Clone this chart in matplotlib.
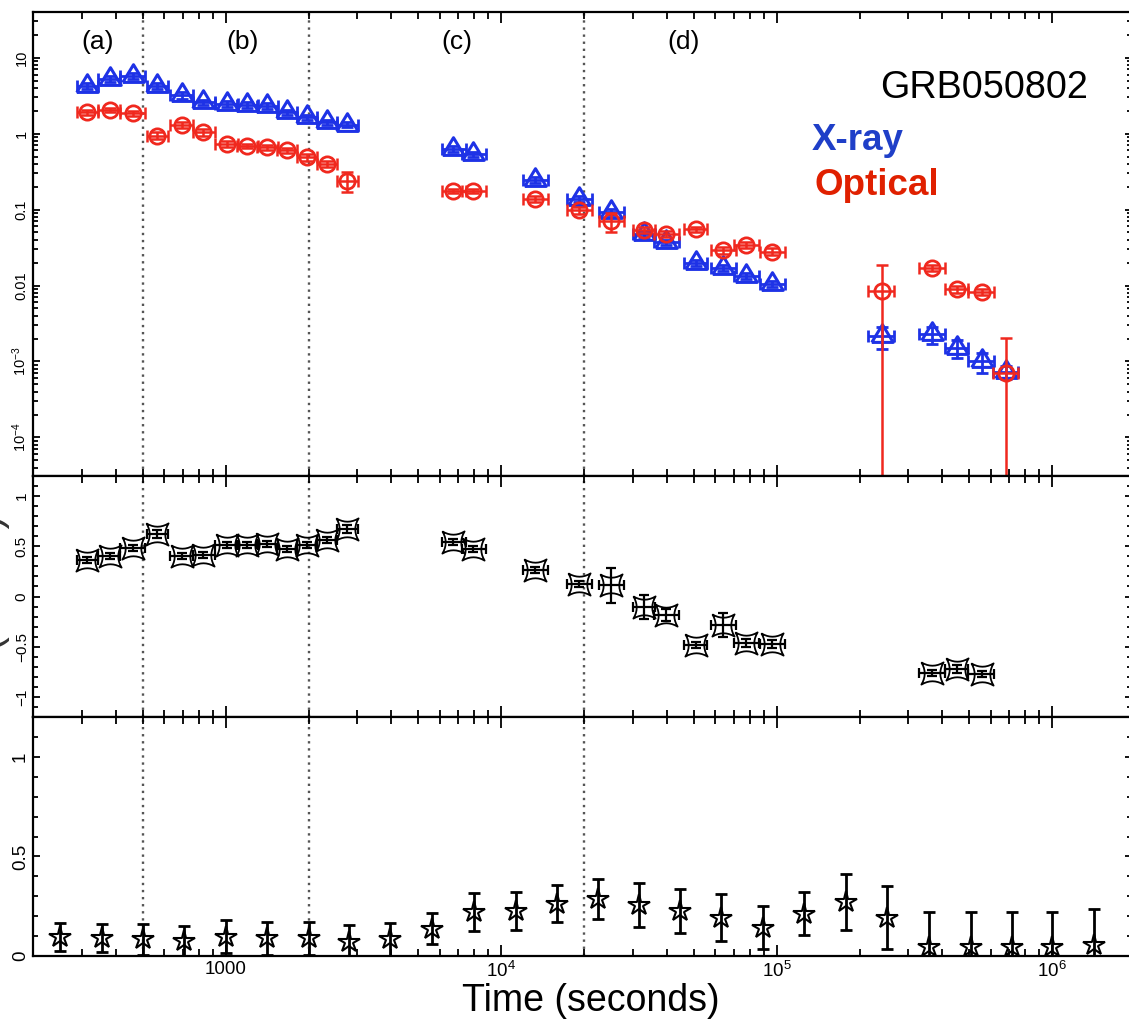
import numpy as np
import matplotlib
matplotlib.use('Agg')
import matplotlib.pyplot as plt
from matplotlib.ticker import LogLocator, MultipleLocator, NullFormatter
import matplotlib.transforms as mtransforms

plt.rcParams['font.family'] = ['Liberation Sans', 'DejaVu Sans']
plt.rcParams['mathtext.fontset'] = 'custom'
plt.rcParams['mathtext.rm'] = 'Liberation Sans'
plt.rcParams['mathtext.it'] = 'Liberation Sans:italic'
plt.rcParams['mathtext.bf'] = 'Liberation Sans:bold'

# ---- top panel: light curves (time bins shared by X-ray and optical)
t_mid = [315, 381, 462, 562, 693, 831, 1010, 1194, 1411, 1667, 1973, 2329, 2752,
         6710, 7940, 13280, 19230, 25000, 33050, 39700, 51100, 64100, 77500, 96100,
         241000, 368000, 453000, 556000, 681000]
t_lo = [288, 345, 414, 517, 629, 764, 916, 1098, 1298, 1534, 1815, 2142, 2532,
        6090, 7200, 12050, 17400, 22700, 30100, 35800, 46300, 57700, 70300, 87200,
        215000, 330000, 407000, 497000, 610000]
t_hi = [345, 414, 510, 620, 764, 916, 1113, 1316, 1555, 1815, 2154, 2532, 3035,
        7440, 8830, 14850, 21300, 27900, 36200, 44400, 56100, 71100, 86000, 107600,
        266000, 407000, 497000, 614000, 754000]

xray = [4.3, 5.3, 5.8, 4.3, 3.2, 2.6, 2.46, 2.4, 2.34, 1.91, 1.64, 1.41, 1.31,
        0.63, 0.54, 0.245, 0.137, 0.094, 0.0475, 0.037, 0.020, 0.0172, 0.0134, 0.0104,
        0.00216, 0.00228, 0.0015, 0.00101, 0.00073]
xray_err = [0.4, 0.5, 0.5, 0.4, 0.3, 0.2, 0.2, 0.2, 0.2, 0.15, 0.13, 0.11, 0.1,
            0.05, 0.04, 0.02, 0.012, 0.008, 0.004, 0.003, 0.002, 0.0015, 0.0012, 0.0009,
            0.0007, 0.0006, 0.0004, 0.0003, 0.00015]

optical = [1.91, 2.05, 1.85, 0.94, 1.31, 1.04, 0.73, 0.69, 0.66, 0.60, 0.49, 0.40, 0.235,
           0.177, 0.177, 0.137, 0.098, 0.071, 0.054, 0.048, 0.055, 0.029, 0.034, 0.028,
           0.0085, 0.0172, 0.0089, 0.0083, 0.00071]
opt_err_lo = [0.15, 0.15, 0.15, 0.1, 0.12, 0.1, 0.06, 0.05, 0.05, 0.05, 0.05, 0.04, 0.065,
              0.012, 0.012, 0.012, 0.01, 0.02, 0.005, 0.005, 0.004, 0.003, 0.003, 0.003,
              0.0084999, 0.0015, 0.001, 0.0008, 0.00070999]
opt_err_hi = [0.15, 0.15, 0.15, 0.1, 0.12, 0.1, 0.06, 0.05, 0.05, 0.05, 0.05, 0.04, 0.075,
              0.012, 0.012, 0.012, 0.01, 0.02, 0.005, 0.005, 0.004, 0.003, 0.003, 0.003,
              0.010, 0.0015, 0.001, 0.0008, 0.00135]

# ---- middle panel: X-ray to optical index
beta_t = t_mid[:24] + t_mid[25:28]
beta_lo = t_lo[:24] + t_lo[25:28]
beta_hi = t_hi[:24] + t_hi[25:28]
beta = [0.36, 0.40, 0.487, 0.62, 0.40, 0.41, 0.51, 0.51, 0.52, 0.477, 0.51, 0.56, 0.677,
        0.543, 0.477, 0.26, 0.12, 0.11, -0.107, -0.18, -0.48, -0.28, -0.467, -0.473,
        -0.76, -0.72, -0.77]
beta_err = [0.03, 0.03, 0.03, 0.04, 0.03, 0.03, 0.03, 0.03, 0.03, 0.03, 0.03, 0.03, 0.04,
            0.03, 0.03, 0.03, 0.03, 0.17, 0.12, 0.06, 0.03, 0.12, 0.04, 0.04,
            0.03, 0.04, 0.03]

# ---- bottom panel
p_t = [250, 355, 500, 705, 1000, 1410, 2000, 2810, 3960, 5600, 8000, 11300, 15900,
       22400, 31600, 44600, 63100, 89300, 126000, 178000, 252000, 358000, 507000,
       715000, 1000000, 1420000]
p_val = [0.097, 0.092, 0.083, 0.075, 0.097, 0.088, 0.088, 0.072, 0.083, 0.138, 0.22,
         0.225, 0.263, 0.288, 0.255, 0.225, 0.193, 0.143, 0.213, 0.272, 0.193,
         0.043, 0.043, 0.043, 0.043, 0.055]
p_err = [0.07, 0.07, 0.077, 0.075, 0.083, 0.083, 0.085, 0.083, 0.083, 0.08, 0.095,
         0.095, 0.094, 0.1, 0.11, 0.11, 0.12, 0.11, 0.11, 0.14, 0.16,
         0.177, 0.177, 0.177, 0.177, 0.18]

breaks = [500, 2000, 20000]
phases = ['(a)', '(b)', '(c)', '(d)']

blue = '#1e32e6'
red = '#f0281e'

fig = plt.figure(figsize=(11.29, 10.19), dpi=100)
W, H = 1129.0, 1019.0
x0 = 33 / W
wd = 1132 / W - x0
ax1 = fig.add_axes([x0, 1 - 476 / H, wd, 464 / H])
ax2 = fig.add_axes([x0, 1 - 717 / H, wd, 241 / H], sharex=ax1)
ax3 = fig.add_axes([x0, 1 - 956 / H, wd, 239 / H], sharex=ax1)


def xerrs(t, lo, hi):
    t = np.array(t, float)
    return [t - np.array(lo), np.array(hi) - t]


# marker shapes: triangle with centroid on the point, concave square ("astroid")
tri = [(-1, -0.55), (1, -0.55), (0, 1.1), (-1, -0.55)]
s = np.linspace(-1, 1, 9)
top_side = [(a, 1 - 0.3 * (1 - a * a)) for a in s]
astroid = (top_side
           + [(y, -x) for x, y in top_side][1:]
           + [(-x, -y) for x, y in top_side][1:]
           + [(-y, x) for x, y in top_side][1:])

# top
ax1.errorbar(t_mid, xray, xerr=xerrs(t_mid, t_lo, t_hi), yerr=xray_err, fmt='none',
             ecolor=blue, elinewidth=2, capsize=4, capthick=2)
ax1.plot(t_mid, xray, ls='none', marker=tri, ms=17, mfc='none', mec=blue, mew=2.2)
ax1.errorbar(t_mid, optical, xerr=xerrs(t_mid, t_lo, t_hi),
             yerr=[opt_err_lo, opt_err_hi], fmt='none',
             ecolor=red, elinewidth=1.8, capsize=4, capthick=1.8)
ax1.plot(t_mid, optical, ls='none', marker='o', ms=11, mfc='none', mec=red, mew=2)
ax1.set_yscale('log')
ax1.set_ylim(3.1e-5, 40)
ax1.set_yticks([1e-4, 1e-3, 1e-2, 0.1, 1, 10])
ax1.set_yticklabels([r'$10^{-4}$', r'$10^{-3}$', '0.01', '0.1', '1', '10'],
                    rotation=90, va='center', fontsize=10.5)
ax1.yaxis.set_minor_locator(LogLocator(base=10, subs=np.arange(2, 10)))
ax1.yaxis.set_minor_formatter(NullFormatter())

trans = mtransforms.blended_transform_factory(ax1.transData, ax1.transAxes)
for lab, xp in zip(phases, [344, 1157, 6920, 46100]):
    ax1.text(xp, 0.935, lab, transform=trans, ha='center', va='center', fontsize=19)
fig.text(880 / W, 1 - 98 / H, 'GRB050802', fontsize=27.2, ha='left', va='baseline')
fig.text(812 / W, 1 - 150 / H, 'X-ray', fontsize=26.5, fontweight='bold', color='#1f3fc8',
         ha='left', va='baseline')
fig.text(815 / W, 1 - 195 / H, 'Optical', fontsize=26.5, fontweight='bold', color='#e02000',
         ha='left', va='baseline')

# middle
ax2.errorbar(beta_t, beta, xerr=xerrs(beta_t, beta_lo, beta_hi), yerr=beta_err, fmt='none',
             ecolor='black', elinewidth=1.6, capsize=3.5, capthick=1.6)
ax2.plot(beta_t, beta, ls='none', marker=astroid, ms=16, mfc='none', mec='black', mew=1.3)
ax2.set_ylim(-1.2, 1.2)
ax2.set_yticks([-1, -0.5, 0, 0.5, 1])
ax2.set_yticklabels(['\u22121', '\u22120.5', '0', '0.5', '1'], rotation=90, va='center',
                    fontsize=11)
ax2.yaxis.set_minor_locator(MultipleLocator(0.1))
fig.text(-10 / W, 1 - 582 / H, '(X \u2212 O)', rotation=90, fontsize=30,
         ha='center', va='center', color='#333333')

# bottom
ax3.errorbar(p_t, p_val, yerr=p_err, fmt='none', ecolor='black', elinewidth=2,
             capsize=4.5, capthick=2)
ax3.plot(p_t, p_val, ls='none', marker='*', ms=16, mfc='none', mec='black', mew=1.5)
ax3.set_ylim(0, 1.2)
ax3.set_yticks([0, 0.5, 1])
ax3.set_yticklabels(['0', '0.5', '1'], rotation=90, va='center', fontsize=13.5)
ax3.yaxis.set_minor_locator(MultipleLocator(0.1))

ax1.set_xscale('log')
ax1.set_xlim(200, 1.95e6)
ax1.set_xticks([1e3, 1e4, 1e5, 1e6])
ax1.xaxis.set_minor_locator(LogLocator(base=10, subs=np.arange(2, 10)))
ax1.xaxis.set_minor_formatter(NullFormatter())
ax3.set_xticklabels(['1000', r'$10^4$', r'$10^5$', r'$10^6$'], fontsize=13.5)
ax3.set_xlabel('Time (seconds)', fontsize=27)
ax3.xaxis.set_label_coords((591 - 33) / 1099.0, -0.115)

for ax in (ax1, ax2, ax3):
    for b in breaks:
        ax.axvline(b, color='#555555', ls=(0, (1, 2)), lw=1.7, zorder=0)
    for sp in ax.spines.values():
        sp.set_linewidth(1.6)
    ax.tick_params(which='both', direction='in', top=True, right=True, width=1.3)
    ax.tick_params(axis='x', which='major', length=8)
    ax.tick_params(axis='x', which='minor', length=5)
    ax.tick_params(axis='y', which='major', length=5, pad=3)
    ax.tick_params(axis='y', which='minor', length=3.5)
for ax in (ax1, ax2):
    ax.tick_params(axis='x', labelbottom=False)

fig.savefig('out.png', dpi=100)
